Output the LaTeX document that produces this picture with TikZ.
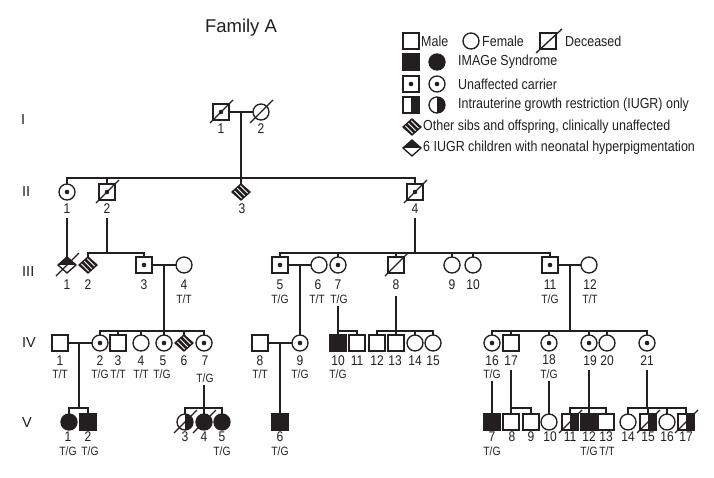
\documentclass[tikz,border=0pt]{standalone}
\usepackage{fontspec}
\setmainfont{Liberation Sans}[FakeStretch=0.86]
\newfontfamily\plainsans{Liberation Sans}
\usetikzlibrary{shapes.geometric}
\definecolor{ink}{HTML}{231F20}
\newcommand\deadmark[1]{\draw[conn] ([shift={(-11pt,-11pt)}]#1.center) -- ([shift={(12pt,12pt)}]#1.center);}
\newcommand\plab[4]{\node[numlbl] (#1) at (#2,#3) {#4};}
\newcommand\pgeno[4]{\node[genolbl] (#1) at (#2,#3) {#4};}
\begin{document}
\begin{tikzpicture}[x=1pt,y=-1pt,
 conn/.style={draw=ink,line width=1.35pt},
 ind/.style={draw=ink,line width=1.35pt,inner sep=0pt,outer sep=0pt,fill=white},
 male/.style={ind,rectangle,minimum size=16pt},
 female/.style={ind,circle,minimum size=16pt},
 unk/.style={ind,diamond,minimum width=18pt,minimum height=16pt},
 affected/.style={fill=ink},
 carrier/.style={path picture={\fill[ink] (path picture bounding box.center) circle (2.3pt);}},
 iugr/.style={path picture={\fill[ink] (path picture bounding box.north) rectangle (path picture bounding box.south east);}},
 tophalf/.style={path picture={\fill[ink] (path picture bounding box.west) rectangle (path picture bounding box.north east);}},
 hatch/.style={path picture={\fill[ink] (path picture bounding box.south west) rectangle (path picture bounding box.north east);
   \foreach \k in {-1,0,1} \draw[white,line width=0.9pt] ([shift={(\k*5.5pt-12pt,12pt)}]path picture bounding box.center) -- ++(24pt,-24pt);}},
 numlbl/.style={inner sep=0pt,text=ink,font=\fontsize{14}{15}\selectfont},
 genolbl/.style={inner sep=0pt,text=ink,font=\fontsize{12}{13}\selectfont},
 genlbl/.style={inner sep=0pt,anchor=west,text=ink,font=\plainsans\fontsize{14.5}{16}\selectfont},
 leglbl/.style={inner sep=0pt,anchor=west,text=ink,font=\fontsize{14.5}{16}\selectfont},
]
\useasboundingbox (0,0) rectangle (714,477);
\fill[white] (0,0) rectangle (714,477);

% title and generation labels
\node[text=ink,font=\plainsans\fontsize{18.5}{20}\selectfont,inner sep=0pt] (title) at (241,28) {Family A};
\node[genlbl] (gI) at (21,120) {I};
\node[genlbl] (gII) at (22,192) {II};
\node[genlbl] (gIII) at (22,272) {III};
\node[genlbl] (gIV) at (22,343) {IV};
\node[genlbl] (gV) at (22,423) {V};

% legend
\node[male] (Lm) at (411,41) {};
\node[leglbl] (Lmt) at (421,41) {Male};
\node[female] (Lf) at (471,41) {};
\node[leglbl] (Lft) at (482,41) {Female};
\node[male] (Ld) at (548,41) {};
\node[leglbl] (Ldt) at (565,41) {Deceased};
\node[male,affected] (La1) at (411,62) {};
\node[female,affected] (La2) at (437,62) {};
\node[leglbl] (Lat) at (458,62) {IMAGe Syndrome};
\node[male,carrier] (Lc1) at (411,84) {};
\node[female,carrier] (Lc2) at (437,84) {};
\node[leglbl] (Lct) at (458,84) {Unaffected carrier};
\node[male,iugr] (Li1) at (411,105) {};
\node[female,iugr] (Li2) at (437,105) {};
\node[leglbl] (Lit) at (458,105) {Intrauterine growth restriction (IUGR) only};
\node[unk,hatch] (Lh) at (412,127) {};
\node[leglbl] (Lht) at (423,127) {Other sibs and offspring, clinically unaffected};
\node[unk,tophalf] (Lu) at (412,148) {};
\node[leglbl] (Lut) at (423,148) {6 IUGR children with neonatal hyperpigmentation};
\draw[conn] ([shift={(-12pt,-12pt)}]Ld.center) -- ([shift={(14pt,12pt)}]Ld.center);

% Generation I
\node[male,carrier] (I1) at (221,112) {};
\node[female] (I2) at (261,112) {};
\plab{I1n}{221}{129}{1} \plab{I2n}{261}{129}{2}

% Generation II
\node[female,carrier] (II1) at (67,192) {};
\node[male,carrier] (II2) at (107,192) {};
\node[unk,hatch] (II3) at (241,192) {};
\node[male,carrier] (II4) at (415,192) {};
\plab{II1n}{67}{209}{1} \plab{II2n}{107}{209}{2} \plab{II3n}{242}{209}{3} \plab{II4n}{415}{209}{4}

% Generation III
\node[unk,tophalf] (III1) at (67,265) {};
\node[unk,hatch] (III2) at (88,265) {};
\node[male,carrier] (III3) at (144,265) {};
\node[female] (III4) at (184,265) {};
\node[male,carrier] (III5) at (280,265) {};
\node[female] (III6) at (319,265) {};
\node[female,carrier] (III7) at (338,265) {};
\node[male] (III8) at (396,265) {};
\node[female] (III9) at (452,265) {};
\node[female] (III10) at (473,265) {};
\node[male,carrier] (III11) at (550,265) {};
\node[female] (III12) at (589,265) {};
\plab{III1n}{67}{285}{1} \plab{III2n}{88}{285}{2} \plab{III3n}{144}{285}{3} \plab{III4n}{184}{285}{4}
\pgeno{III4g}{184}{299}{T/T}
\plab{III5n}{280}{285}{5} \plab{III6n}{318}{285}{6} \plab{III7n}{338}{285}{7} \plab{III8n}{396}{285}{8}
\plab{III9n}{452}{285}{9} \plab{III10n}{473}{285}{10} \plab{III11n}{550}{285}{11} \plab{III12n}{590}{285}{12}
\pgeno{III5g}{280}{299}{T/G} \pgeno{III6g}{317}{299}{T/T} \pgeno{III7g}{339}{299}{T/G}
\pgeno{III11g}{550}{299}{T/G} \pgeno{III12g}{590}{299}{T/T}

% Generation IV
\node[male] (IV1) at (60,343) {};
\node[female,carrier] (IV2) at (100,343) {};
\node[male] (IV3) at (118,343) {};
\node[female] (IV4) at (141,343) {};
\node[female,carrier] (IV5) at (164,343) {};
\node[unk,hatch] (IV6) at (184,343) {};
\node[female,carrier] (IV7) at (204,343) {};
\node[male] (IV8) at (260,343) {};
\node[female,carrier] (IV9) at (300,343) {};
\node[male,affected] (IV10) at (338,343) {};
\node[male] (IV11) at (357,343) {};
\node[male] (IV12) at (377,343) {};
\node[male] (IV13) at (396,343) {};
\node[female] (IV14) at (415,343) {};
\node[female] (IV15) at (433,343) {};
\node[female,carrier] (IV16) at (492,343) {};
\node[male] (IV17) at (511,343) {};
\node[female,carrier] (IV18) at (549,343) {};
\node[female,carrier] (IV19) at (589,343) {};
\node[female] (IV20) at (607,343) {};
\node[female,carrier] (IV21) at (647,343) {};
\plab{IV1n}{60}{361}{1} \plab{IV2n}{100}{361}{2} \plab{IV3n}{118}{361}{3} \plab{IV4n}{141}{361}{4}
\plab{IV5n}{163}{361}{5} \plab{IV6n}{184}{361}{6} \plab{IV7n}{205}{361}{7}
\pgeno{IV1g}{60}{374}{T/T} \pgeno{IV2g}{100}{374}{T/G} \pgeno{IV3g}{118}{374}{T/T}
\pgeno{IV4g}{141}{374}{T/T} \pgeno{IV5g}{162}{374}{T/G} \pgeno{IV7g}{205}{378}{T/G}
\plab{IV8n}{260}{361}{8} \plab{IV9n}{300}{361}{9} \plab{IV10n}{338}{361}{10} \plab{IV11n}{357}{361}{11}
\plab{IV12n}{377}{361}{12} \plab{IV13n}{395}{361}{13} \plab{IV14n}{415}{361}{14} \plab{IV15n}{433}{361}{15}
\pgeno{IV8g}{260}{374}{T/T} \pgeno{IV9g}{300}{374}{T/G} \pgeno{IV10g}{338}{374}{T/G}
\plab{IV16n}{492}{361}{16} \plab{IV17n}{511}{361}{17} \plab{IV18n}{549}{360}{18} \plab{IV19n}{590}{361}{19}
\plab{IV20n}{607}{361}{20} \plab{IV21n}{647}{361}{21}
\pgeno{IV16g}{492}{374}{T/G} \pgeno{IV18g}{549}{374}{T/G}

% Generation V
\node[female,affected] (V1) at (69,422) {};
\node[male,affected] (V2) at (88,422) {};
\node[female,iugr] (V3) at (185,422) {};
\node[female,affected] (V4) at (204,422) {};
\node[female,affected] (V5) at (222,422) {};
\node[male,affected] (V6) at (280,422) {};
\node[male,affected] (V7) at (492,422) {};
\node[male] (V8) at (511,422) {};
\node[male] (V9) at (531,422) {};
\node[female] (V10) at (549,422) {};
\node[male,iugr] (V11) at (570,422) {};
\node[male,affected] (V12) at (589,422) {};
\node[male] (V13) at (606,422) {};
\node[female] (V14) at (628,422) {};
\node[male,iugr] (V15) at (648,422) {};
\node[female] (V16) at (667,422) {};
\node[male,iugr] (V17) at (686,422) {};
\plab{V1n}{68}{437}{1} \plab{V2n}{88}{437}{2} \plab{V3n}{185}{437}{3} \plab{V4n}{204}{437}{4} \plab{V5n}{222}{437}{5}
\pgeno{V1g}{68}{451}{T/G} \pgeno{V2g}{90}{451}{T/G} \pgeno{V5g}{222}{451}{T/G}
\plab{V6n}{280}{437}{6} \pgeno{V6g}{280}{451}{T/G}
\plab{V7n}{492}{437}{7} \plab{V8n}{512}{437}{8} \plab{V9n}{531}{437}{9} \plab{V10n}{550}{437}{10}
\plab{V11n}{570}{437}{11} \plab{V12n}{589}{437}{12} \plab{V13n}{606}{437}{13} \plab{V14n}{628}{437}{14}
\plab{V15n}{648}{437}{15} \plab{V16n}{667}{437}{16} \plab{V17n}{686}{437}{17}
\pgeno{V7g}{492}{451}{T/G} \pgeno{V12g}{589}{451}{T/G} \pgeno{V13g}{607}{451}{T/T}

% ---- connectors ----
% I
\coordinate (mI) at (241,112);
\coordinate (sII) at (241,178);
\draw[conn] (I1) -- (I2);
\draw[conn] (mI) -- (II3.north);
% II sibship
\draw[conn] (II1.north) -- (II1.north |- sII) -| (II4.north);
\draw[conn] (II2.north) -- (II2.north |- sII);
% II-1 -> III-1
\coordinate (dII1) at (67,218);
\draw[conn] (dII1) -- (III1.north);
% II-2 -> III-2, III-3
\coordinate (dII2) at (107,218);
\coordinate (sIIIa) at (107,253);
\draw[conn] (dII2) -- (sIIIa);
\draw[conn] (III2.north) |- (sIIIa);
\draw[conn] (III3.north) |- (sIIIa);
% II-4 -> III-5..III-11
\coordinate (dII4) at (415,218);
\coordinate (sIIIb) at (415,253);
\draw[conn] (dII4) -- (sIIIb);
\draw[conn] (III5.north) |- (sIIIb) -| (III11.north);
\foreach \c in {III7,III8,III9,III10} \draw[conn] (\c.north) -- (\c.north |- sIIIb);
% III marriages
\draw[conn] (III3) -- (III4);
\coordinate (mIIIa) at (164,265);
\coordinate (sIVa) at (164,331);
\draw[conn] (mIIIa) -- (IV5.north);
\draw[conn] (IV2.north) -- (IV2.north |- sIVa) -| (IV7.north);
\foreach \c in {IV3,IV4,IV6} \draw[conn] (\c.north) -- (\c.north |- sIVa);
\draw[conn] (III5) -- (III6);
\coordinate (mIIIb) at (300,265);
\draw[conn] (mIIIb) -- (IV9.north);
\coordinate (dIII7) at (338,306);
\coordinate (sIVb) at (338,331);
\draw[conn] (dIII7) -- (IV10.north);
\draw[conn] (IV10.north |- sIVb) -| (IV11.north);
\coordinate (dIII8) at (396,296);
\coordinate (sIVc) at (396,331);
\draw[conn] (dIII8) -- (IV13.north);
\draw[conn] (IV12.north) -- (IV12.north |- sIVc) -| (IV15.north);
\draw[conn] (IV14.north) -- (IV14.north |- sIVc);
\draw[conn] (III11) -- (III12);
\coordinate (mIIIc) at (570,265);
\coordinate (sIVd) at (570,331);
\draw[conn] (mIIIc) -- (sIVd);
\draw[conn] (IV16.north) |- (sIVd) -| (IV21.north);
\foreach \c in {IV17,IV18,IV19,IV20} \draw[conn] (\c.north) -- (\c.north |- sIVd);
% IV -> V
\draw[conn] (IV1) -- (IV2);
\coordinate (mIVa) at (79,343);
\coordinate (sVa) at (79,408);
\draw[conn] (mIVa) -- (sVa);
\draw[conn] (V1.north) |- (sVa) -| (V2.north);
\coordinate (dIV7) at (204,385);
\coordinate (sVb) at (204,408);
\draw[conn] (dIV7) -- (V4.north);
\draw[conn] (V3.north) -- (V3.north |- sVb) -| (V5.north);
\draw[conn] (IV8) -- (IV9);
\coordinate (mIVb) at (280,343);
\draw[conn] (mIVb) -- (V6.north);
\coordinate (dIV16) at (492,381);
\draw[conn] (dIV16) -- (V7.north);
\coordinate (dIV17) at (511,370);
\coordinate (sVc) at (511,408);
\draw[conn] (dIV17) -- (V8.north);
\draw[conn] (sVc) -| (V9.north);
\coordinate (dIV18) at (549,381);
\draw[conn] (dIV18) -- (V10.north);
\coordinate (dIV19) at (589,370);
\coordinate (sVd) at (589,408);
\draw[conn] (dIV19) -- (V12.north);
\draw[conn] (V11.north) -- (V11.north |- sVd) -| (V13.north);
\coordinate (dIV21) at (647,370);
\coordinate (sVe) at (647,408);
\draw[conn] (dIV21) -- (sVe);
\draw[conn] (V14.north) -- (V14.north |- sVe) -| (V17.north);
\foreach \c in {V15,V16} \draw[conn] (\c.north) -- (\c.north |- sVe);

% deceased marks
\foreach \c in {I1,I2,II2,II4,III1,III8,V3,V4,V11,V15,V17} {\deadmark{\c}}
\end{tikzpicture}
\end{document}
